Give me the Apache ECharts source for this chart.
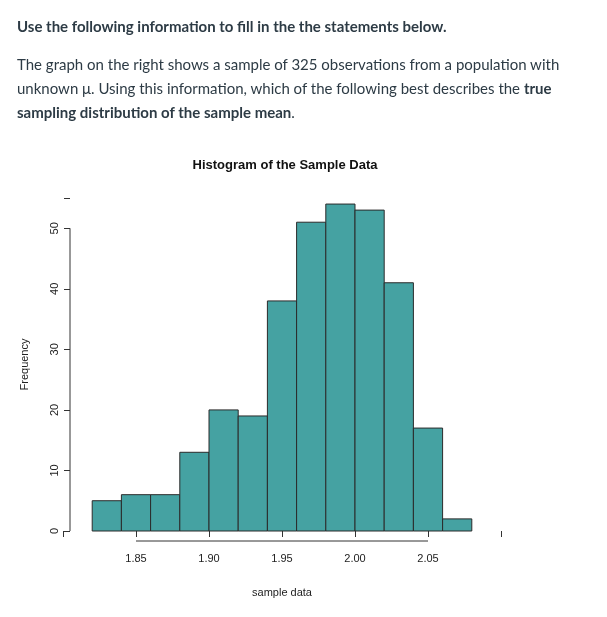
<!DOCTYPE html>
<html lang="en">
<head>
<meta charset="UTF-8">
<title>Histogram</title>
<style>
  body { margin: 0; background: #fff; }
  #wrap { position: relative; width: 607px; height: 617px; }
  #echarts { position: absolute; left: 0; top: 0; width: 607px; height: 617px; }
  #txt { position: absolute; left: 17px; top: 14px; width: 585px; font-family: Lato, "Open Sans", sans-serif; color: #2d3b45; font-size: 15px; line-height: 24px; }
  #txt h4 { margin: 0 0 14px 0; font-size: 15px; font-weight: bold; }
  #txt p { margin: 0; }
</style>
</head>
<body>
<div id="wrap">
  <div id="echarts"></div>
  <div id="txt">
    <h4>Use the following information to fill in the the statements below.</h4>
    <p>The graph on the right shows a sample of 325 observations from a population with unknown &mu;. Using this information, which of the following best describes the <b>true sampling distribution of the sample mean</b>.</p>
  </div>
</div>
<script src="https://cdn.jsdelivr.net/npm/echarts@6/dist/echarts.min.js"></script>
<script>
    // bins of width 0.02 starting at 1.82
    const binStart = [1.82, 1.84, 1.86, 1.88, 1.90, 1.92, 1.94, 1.96, 1.98, 2.00, 2.02, 2.04, 2.06];
    const binWidth = 0.02;
    const counts = [5, 6, 6, 13, 20, 19, 38, 51, 54, 53, 41, 17, 2];
    const xTicks = [1.85, 1.90, 1.95, 2.00, 2.05];
    const yTicks = [0, 10, 20, 30, 40, 50];

    const data = binStart.map((s, i) => [s, s + binWidth, counts[i]]);
    const tickFont = { fontFamily: 'Liberation Sans, Arial', fontSize: 11, color: '#222' };

    const option = {
        animation: false,
        title: {
            text: 'Histogram of the Sample Data', left: 280, top: 154, textAlign: 'center',
            textStyle: { fontFamily: 'Liberation Sans, Arial', fontSize: 13, fontWeight: 'bold', color: '#111' }
        },
        grid: { left: 63, width: 438, top: 198, height: 333 },
        xAxis: {
            type: 'value', min: 1.80, max: 2.10, interval: 0.05, offset: 10,
            name: 'sample data', nameLocation: 'middle', nameGap: 46,
            nameTextStyle: { fontFamily: 'Liberation Sans, Arial', fontSize: 11, color: '#222' },
            axisLine: { show: false },
            axisTick: { length: 6, lineStyle: { color: '#333' } },
            splitLine: { show: false },
            axisLabel: Object.assign({ margin: 12, formatter: v => xTicks.some(t => Math.abs(t - v) < 1e-6) ? v.toFixed(2) : '' }, tickFont)
        },
        yAxis: {
            type: 'value', min: 0, max: 55, interval: 10, offset: -7,
            name: 'Frequency', nameLocation: 'middle', nameGap: 40, nameRotate: 90,
            nameTextStyle: { fontFamily: 'Liberation Sans, Arial', fontSize: 11, color: '#222' },
            axisLine: { show: false },
            axisTick: { length: 6, lineStyle: { color: '#333' } },
            splitLine: { show: false },
            axisLabel: Object.assign({ rotate: 90, margin: 10, formatter: v => yTicks.includes(v) ? String(v) : '' }, tickFont)
        },
        series: [{
            type: 'custom',
            data: data,
            renderItem: function (params, api) {
                const p0 = api.coord([api.value(0), 0]);
                const p1 = api.coord([api.value(1), api.value(2)]);
                return {
                    type: 'rect',
                    shape: { x: p0[0], y: p1[1], width: p1[0] - p0[0], height: p0[1] - p1[1] },
                    style: { fill: '#45a2a2', stroke: '#2b2b2b', lineWidth: 1 }
                };
            }
        }]
    };

    const chart = echarts.init(document.getElementById('echarts'));
    chart.setOption(option);

    // R-style axis lines spanning only the tick range
    const xa = chart.convertToPixel({ gridIndex: 0 }, [xTicks[0], 0]);
    const xb = chart.convertToPixel({ gridIndex: 0 }, [xTicks[xTicks.length - 1], 0]);
    const ya = chart.convertToPixel({ gridIndex: 0 }, [1.80, yTicks[0]]);
    const yb = chart.convertToPixel({ gridIndex: 0 }, [1.80, yTicks[yTicks.length - 1]]);
    chart.setOption({
        graphic: [
            { type: 'line', shape: { x1: xa[0], y1: xa[1] + 10, x2: xb[0], y2: xb[1] + 10 }, style: { stroke: '#333', lineWidth: 1 } },
            { type: 'line', shape: { x1: ya[0] + 7, y1: ya[1], x2: yb[0] + 7, y2: yb[1] }, style: { stroke: '#333', lineWidth: 1 } }
        ]
    });
</script>
</body>
</html>
